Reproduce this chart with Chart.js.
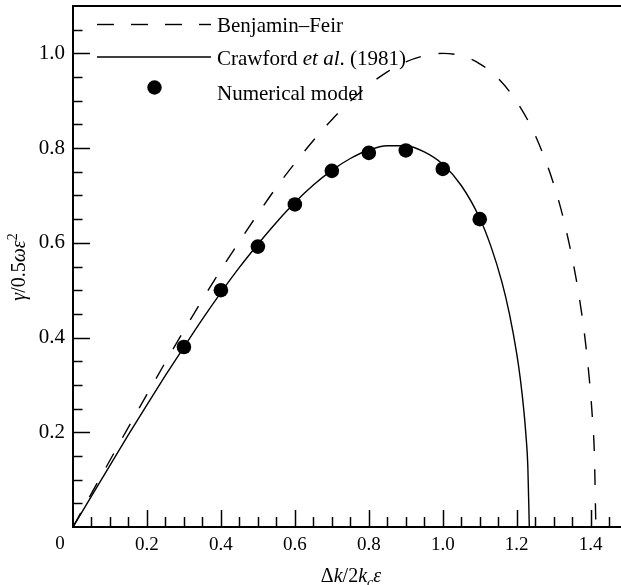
<!DOCTYPE html>
<html>
<head>
<meta charset="utf-8">
<script src="https://cdn.jsdelivr.net/npm/chart.js@4.4.1/dist/chart.umd.min.js"></script>
<style>
  body { margin: 0; background: #fff; }
  canvas { display: block; }
</style>
</head>
<body>
<canvas id="chart" width="621" height="585"></canvas>
<script>
// Benjamin–Feir curve (dashed)
const bfX = [0, 0.05, 0.1, 0.15, 0.2, 0.25, 0.3, 0.35, 0.4, 0.45, 0.5, 0.55, 0.6, 0.65, 0.7, 0.75, 0.8, 0.85, 0.9, 0.95,
             1.0, 1.05, 1.1, 1.15, 1.2, 1.25, 1.3, 1.33, 1.36, 1.38, 1.39, 1.4, 1.405, 1.41, 1.414];
const bfY = [0, 0.071, 0.141, 0.211, 0.280, 0.348, 0.415, 0.480, 0.543, 0.603, 0.661, 0.717, 0.768, 0.816, 0.860, 0.899, 0.933, 0.961, 0.982, 0.995,
             1.0, 0.995, 0.978, 0.947, 0.898, 0.827, 0.724, 0.639, 0.527, 0.427, 0.362, 0.280, 0.226, 0.154, 0];

// Crawford et al. (1981) curve (solid)
const crX = [0, 0.05, 0.1, 0.15, 0.2, 0.25, 0.3, 0.35, 0.4, 0.45, 0.5, 0.55, 0.6, 0.65, 0.7, 0.75, 0.8, 0.85, 0.9, 0.95,
             1.0, 1.05, 1.1, 1.13, 1.16, 1.18, 1.2, 1.21, 1.22, 1.225, 1.23, 1.234];
const crY = [0, 0.065, 0.130, 0.195, 0.258, 0.320, 0.380, 0.439, 0.495, 0.548, 0.597, 0.643, 0.685, 0.722, 0.753, 0.778, 0.796, 0.805, 0.805, 0.792,
             0.766, 0.721, 0.652, 0.593, 0.517, 0.451, 0.366, 0.311, 0.240, 0.193, 0.129, 0];

// numerical model (dots)
const modelX = [0.3, 0.4, 0.5, 0.6, 0.7, 0.8, 0.9, 1.0, 1.1];
const modelY = [0.380, 0.500, 0.592, 0.681, 0.752, 0.790, 0.795, 0.756, 0.650];

// tick labels
const xTicks = [0.2, 0.4, 0.6, 0.8, 1.0, 1.2, 1.4];
const yTicks = [0.2, 0.4, 0.6, 0.8, 1.0];

const SERIF = '"Liberation Serif", "Times New Roman", serif';
const pts = (xs, ys) => xs.map((v, i) => ({ x: v, y: ys[i] }));

// draws a run of text pieces with mixed styles, centred on (cx, cy)
function richText(ctx, parts, cx, cy) {
  let w = 0;
  parts.forEach(p => { ctx.font = p.font; p.w = ctx.measureText(p.t).width; w += p.w; });
  let x = cx - w / 2;
  ctx.textBaseline = 'alphabetic';
  ctx.textAlign = 'left';
  parts.forEach(p => {
    ctx.font = p.font;
    ctx.fillText(p.t, x, cy + (p.dy || 0));
    x += p.w;
  });
}

const decor = {
  id: 'decor',
  afterDraw(chart) {
    const { ctx, chartArea: a, scales: { x, y } } = chart;
    ctx.save();
    ctx.strokeStyle = '#000';
    ctx.fillStyle = '#000';

    // top frame line
    ctx.lineWidth = 2;
    ctx.beginPath();
    ctx.moveTo(a.left, a.top);
    ctx.lineTo(a.right, a.top);
    ctx.stroke();

    // inward ticks
    ctx.lineWidth = 1.5;
    for (let i = 1; i * 0.05 < x.max; i++) {
      const px = Math.round(x.getPixelForValue(i * 0.05)) + 0.5;
      const len = i % 4 === 0 ? 17 : 10;
      ctx.beginPath();
      ctx.moveTo(px, a.bottom);
      ctx.lineTo(px, a.bottom - len);
      ctx.stroke();
    }
    for (let i = 1; i * 0.05 < y.max - 0.01; i++) {
      const py = Math.round(y.getPixelForValue(i * 0.05)) + 0.5;
      const len = i % 4 === 0 ? 17 : 9.5;
      ctx.beginPath();
      ctx.moveTo(a.left, py);
      ctx.lineTo(a.left + len, py);
      ctx.stroke();
    }

    // corner zero
    ctx.font = '19px ' + SERIF;
    ctx.textAlign = 'center';
    ctx.textBaseline = 'alphabetic';
    ctx.fillText('0', 60, 549);

    // legend
    ctx.lineWidth = 1.4;
    ctx.setLineDash([17, 17]);
    ctx.beginPath();
    ctx.moveTo(97, 24.5);
    ctx.lineTo(211, 24.5);
    ctx.stroke();
    ctx.setLineDash([]);
    ctx.beginPath();
    ctx.moveTo(97, 57);
    ctx.lineTo(211, 57);
    ctx.stroke();
    ctx.beginPath();
    ctx.arc(154.5, 87.5, 7.2, 0, Math.PI * 2);
    ctx.fill();

    ctx.textAlign = 'left';
    ctx.font = '21px ' + SERIF;
    ctx.fillText('Benjamin–Feir', 217, 32);
    ctx.fillText('Numerical model', 217, 100);
    let lx = 217;
    ctx.fillText('Crawford ', lx, 64.5); lx += ctx.measureText('Crawford ').width;
    ctx.font = 'italic 21px ' + SERIF;
    ctx.fillText('et al', lx, 64.5); lx += ctx.measureText('et al').width;
    ctx.font = '21px ' + SERIF;
    ctx.fillText('. (1981)', lx, 64.5);

    // x title: Δk/2k_cε
    const r = '20px ' + SERIF, it = 'italic 20px ' + SERIF, sub = 'italic 14px ' + SERIF;
    richText(ctx, [
      { t: 'Δ', font: r }, { t: 'k', font: it }, { t: '/2', font: r },
      { t: 'k', font: it }, { t: 'c', font: sub, dy: 5 }, { t: 'ε', font: it }
    ], 351, 582);

    // y title: γ/0.5ωε²
    ctx.save();
    ctx.translate(25, 267);
    ctx.rotate(-Math.PI / 2);
    richText(ctx, [
      { t: 'γ', font: it }, { t: '/0.5', font: r }, { t: 'ωε', font: it },
      { t: '2', font: '14px ' + SERIF, dy: -8 }
    ], 0, 0);
    ctx.restore();

    ctx.restore();
  }
};

new Chart(document.getElementById('chart'), {
  type: 'scatter',
  data: {
    datasets: [
      {
        label: 'Numerical model',
        data: pts(modelX, modelY),
        pointRadius: 7.3,
        pointBackgroundColor: '#000',
        pointBorderWidth: 0,
        showLine: false,
        order: 0
      },
      {
        label: 'Crawford et al. (1981)',
        data: pts(crX, crY),
        showLine: true,
        borderColor: '#000',
        borderWidth: 1.4,
        pointRadius: 0,
        cubicInterpolationMode: 'monotone',
        order: 1
      },
      {
        label: 'Benjamin–Feir',
        data: pts(bfX, bfY),
        showLine: true,
        borderColor: '#000',
        borderWidth: 1.4,
        borderDash: [16, 18],
        pointRadius: 0,
        cubicInterpolationMode: 'monotone',
        order: 2
      }
    ]
  },
  options: {
    responsive: false,
    animation: false,
    layout: { autoPadding: false, padding: { top: 6, right: 0, left: 0, bottom: 0 } },
    plugins: { legend: { display: false }, tooltip: { enabled: false } },
    scales: {
      x: {
        type: 'linear',
        min: 0,
        max: 1.482,
        afterBuildTicks: s => { s.ticks = xTicks.map(v => ({ value: v })); },
        afterFit: s => { s.height = 58; s.paddingLeft = 0; s.paddingRight = 0; },
        grid: { display: false, drawTicks: false },
        border: { display: true, color: '#000', width: 2 },
        ticks: {
          color: '#000',
          padding: 7,
          font: { family: SERIF, size: 19 },
          callback: v => v.toFixed(1)
        }
      },
      y: {
        type: 'linear',
        min: 0,
        max: 1.1,
        afterBuildTicks: s => { s.ticks = yTicks.map(v => ({ value: v })); },
        afterFit: s => { s.width = 73; s.paddingTop = 0; s.paddingBottom = 0; },
        grid: { display: false, drawTicks: false },
        border: { display: true, color: '#000', width: 2 },
        ticks: {
          color: '#000',
          padding: 8,
          font: { family: SERIF, size: 21 },
          callback: v => v.toFixed(1)
        }
      }
    }
  },
  plugins: [decor]
});
</script>
</body>
</html>
